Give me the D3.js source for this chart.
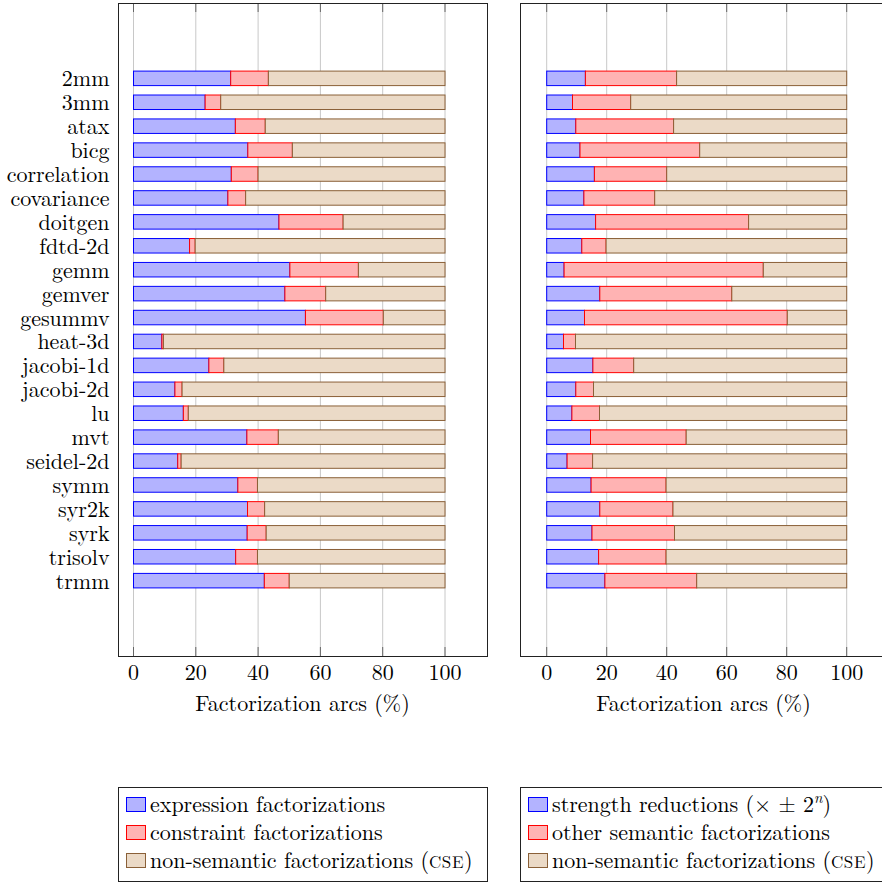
<!DOCTYPE html>
<html>
<head>
<meta charset="utf-8">
<script src="https://cdn.jsdelivr.net/npm/d3@7"></script>
<style>
  body { margin: 0; background: #fff; }
</style>
</head>
<body>
<div class="chart"></div>
<script>
// benchmarks, top to bottom
var benchmarks = ['2mm', '3mm', 'atax', 'bicg', 'correlation', 'covariance', 'doitgen',
  'fdtd-2d', 'gemm', 'gemver', 'gesummv', 'heat-3d', 'jacobi-1d', 'jacobi-2d', 'lu',
  'mvt', 'seidel-2d', 'symm', 'syr2k', 'syrk', 'trisolv', 'trmm'];

// left panel (%)
var exprFact = [31.2, 23.0, 32.7, 36.7, 31.4, 30.3, 46.7, 18.0, 50.2, 48.6, 55.2,
  9.1, 24.2, 13.3, 16.0, 36.4, 14.2, 33.5, 36.6, 36.5, 32.8, 42.0];
var constraintFact = [12.1, 5.0, 9.6, 14.3, 8.6, 5.7, 20.6, 1.8, 22.0, 13.1, 25.0,
  0.5, 4.8, 2.3, 1.6, 10.1, 1.1, 6.3, 5.5, 6.1, 7.0, 8.0];

// right panel (%)
var strengthRed = [12.9, 8.6, 9.7, 11.1, 15.9, 12.4, 16.3, 11.7, 5.8, 17.7, 12.6,
  5.6, 15.4, 9.7, 8.4, 14.6, 6.8, 14.8, 17.7, 15.1, 17.3, 19.4];
var otherSemantic = [30.4, 19.4, 32.6, 39.9, 24.1, 23.6, 51.0, 8.1, 66.4, 44.0, 67.6,
  4.0, 13.6, 5.9, 9.2, 31.9, 8.5, 25.0, 24.4, 27.5, 22.5, 30.6];

// both panels (%)
var nonSemantic = [56.7, 72.0, 57.7, 49.0, 60.0, 64.0, 32.7, 80.2, 27.8, 38.3, 19.8,
  90.4, 71.0, 84.4, 82.4, 53.5, 84.7, 60.2, 57.9, 57.4, 60.2, 50.0];

var xTicks = [0, 20, 40, 60, 80, 100];

var colors = [
  { fill: '#b3b3ff', stroke: '#0000ff' },
  { fill: '#ffb3b3', stroke: '#ff0000' },
  { fill: '#ebdac7', stroke: '#8a6038' }
];

var FONT = 'Latin Modern Roman';

var W = 882, H = 885;
var yTop = 3, yBot = 656;

var svg = d3.select('.chart').append('svg')
  .attr('width', W).attr('height', H);

var yScale = d3.scaleLinear()
  .domain([-3.15, 24.15])
  .range([yTop, yBot]);
var barH = 14.5;

function label(sel) {
  return sel.attr('font-family', FONT).attr('font-size', 22).attr('fill', '#000');
}

function panel(opts) {
  var x = d3.scaleLinear().domain([0, 100]).range([opts.x0, opts.x100]);
  var g = svg.append('g');

  // grid
  g.selectAll('.grid').data(xTicks).enter().append('line')
    .attr('x1', (d) => x(d)).attr('x2', (d) => x(d))
    .attr('y1', yTop).attr('y2', yBot)
    .attr('stroke', '#c8c8c8').attr('stroke-width', 1);

  // stacked bars
  var rows = benchmarks.map((b, i) => ({ a: opts.s1[i], b: opts.s2[i], c: nonSemantic[i], i: i }));
  var stack = d3.stack().keys(['a', 'b', 'c'])(rows);

  stack.forEach((layer, k) => {
    g.selectAll('.bar' + k).data(layer).enter().append('rect')
      .attr('x', (d) => x(d[0]))
      .attr('width', (d) => Math.max(0, x(d[1]) - x(d[0])))
      .attr('y', (d) => yScale(d.data.i) - barH / 2)
      .attr('height', barH)
      .attr('fill', colors[k].fill)
      .attr('stroke', colors[k].stroke)
      .attr('stroke-width', 1);
  });

  // ticks top/bottom
  g.selectAll('.tb').data(xTicks).enter().append('line')
    .attr('x1', (d) => x(d)).attr('x2', (d) => x(d))
    .attr('y1', yBot).attr('y2', yBot - 9)
    .attr('stroke', '#666');
  g.selectAll('.tt').data(xTicks).enter().append('line')
    .attr('x1', (d) => x(d)).attr('x2', (d) => x(d))
    .attr('y1', yTop).attr('y2', yTop + 9)
    .attr('stroke', '#666');

  // frame
  g.append('rect')
    .attr('x', opts.left + 0.5).attr('y', yTop + 0.5)
    .attr('width', opts.right - opts.left).attr('height', yBot - yTop)
    .attr('fill', 'none').attr('stroke', '#222').attr('stroke-width', 1);

  // tick labels
  g.selectAll('.tl').data(xTicks).enter().append('text')
    .attr('x', (d) => x(d)).attr('y', 680)
    .attr('text-anchor', 'middle')
    .call(label)
    .text((d) => d);

  g.append('text')
    .attr('x', (opts.left + opts.right) / 2).attr('y', 711)
    .attr('text-anchor', 'middle')
    .call(label)
    .text('Factorization arcs (%)');

  if (opts.labels) {
    g.selectAll('.yl').data(benchmarks).enter().append('text')
      .attr('x', 109.5).attr('y', (d, i) => yScale(i) + 8)
      .attr('text-anchor', 'end')
      .call(label)
      .text((d) => d);
  }

  // legend
  var lg = svg.append('g');
  lg.append('rect')
    .attr('x', opts.left + 0.5).attr('y', 787.5)
    .attr('width', opts.legendW).attr('height', 94)
    .attr('fill', '#fff').attr('stroke', '#222');
  opts.legend.forEach((item, k) => {
    var cy = 804.5 + k * 28;
    lg.append('rect')
      .attr('x', opts.left + 8.5).attr('y', cy - 7)
      .attr('width', 19).attr('height', 14)
      .attr('fill', colors[k].fill).attr('stroke', colors[k].stroke);
    var t = lg.append('text')
      .attr('x', opts.left + 32).attr('y', cy + 7)
      .call(label);
    item.forEach((part) => {
      var ts = t.append('tspan').text(part.t);
      if (part.small) ts.attr('font-size', 17).attr('letter-spacing', 0.6);
      if (part.sup) ts.attr('dy', -9).attr('font-size', 15).attr('font-style', 'italic');
      if (part.down) ts.attr('dy', 9);
    });
  });
}

panel({
  x0: 133.5, x100: 445, left: 118, right: 487,
  s1: exprFact, s2: constraintFact, labels: true, legendW: 369,
  legend: [
    [{ t: 'expression factorizations' }],
    [{ t: 'constraint factorizations' }],
    [{ t: 'non-semantic factorizations (' }, { t: 'CSE', small: true }, { t: ')' }]
  ]
});

panel({
  x0: 546.7, x100: 846.7, left: 520, right: 887,
  s1: strengthRed, s2: otherSemantic, labels: false, legendW: 372,
  legend: [
    [{ t: 'strength reductions (× ± 2' }, { t: 'n', sup: true }, { t: ')', down: true }],
    [{ t: 'other semantic factorizations' }],
    [{ t: 'non-semantic factorizations (' }, { t: 'CSE', small: true }, { t: ')' }]
  ]
});
</script>
</body>
</html>
